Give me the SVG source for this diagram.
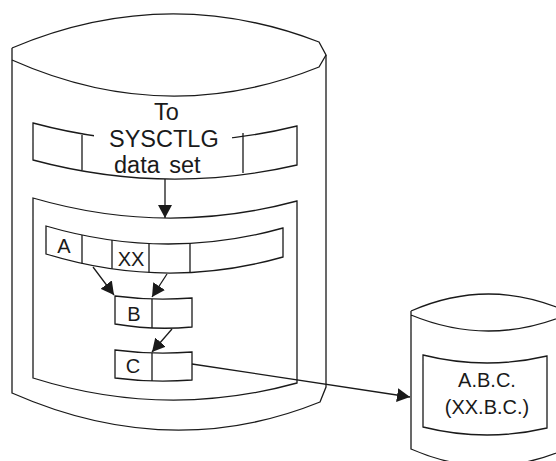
<svg xmlns="http://www.w3.org/2000/svg" width="556" height="461" viewBox="0 0 556 461">
<style>
.s{fill:none;stroke:#1a1a1a;stroke-width:1.3}
.t{font-family:"Liberation Sans",Arial,sans-serif;fill:#1a1a1a}
.big{font-size:23.5px}
.sm{font-size:20px}
</style>
<defs>
<marker id="ah" markerUnits="userSpaceOnUse" markerWidth="14" markerHeight="14" viewBox="0 0 14 14" refX="13" refY="7" orient="auto">
<path d="M0,0 L13,7 L0,14 Z" fill="#1a1a1a"/>
</marker>
</defs>
<g id="catalog-volume">
<path class="s" d="M12,48 Q166,-17 319,42 L326,55 L319,67 Q166,128.5 12,60"/>
<path class="s" d="M12,48 L12,393 Q170,462.5 320,402 L326,387 L326,55"/>
</g>
<g id="sysctlg-record">
<path class="s" d="M33,123 Q165,158.5 297,126 L297,165 Q165,195.5 33,160 Z"/>
<rect x="94" y="129" width="138" height="18" fill="#fff"/>
<line class="s" x1="82" y1="135" x2="82" y2="170"/>
<line class="s" x1="243" y1="133" x2="243" y2="173"/>
<text class="t big"><tspan x="154" y="120">To</tspan><tspan x="109" y="147">SYSCTLG</tspan><tspan x="114" y="173" word-spacing="3">data set</tspan></text>
</g>
<g id="index-panel">
<path class="s" d="M33,198 Q165,236.5 297,201 L297,383 Q165,419.5 33,378 Z"/>
</g>
<g id="record-a">
<path class="s" d="M46,226 Q165,261 283,228 L283,257 Q165,290.5 46,254 Z"/>
<line class="s" x1="82" y1="235" x2="82" y2="263.5"/>
<line class="s" x1="112" y1="240" x2="112" y2="268.7"/>
<line class="s" x1="149" y1="243.6" x2="149" y2="272.5"/>
<line class="s" x1="190" y1="243.7" x2="190" y2="272.8"/>
<text class="t sm" x="64" y="253" text-anchor="middle">A</text>
<text class="t sm" x="131" y="266" text-anchor="middle">XX</text>
</g>
<g id="record-b">
<path class="s" d="M115,296 Q153,301 192,298 L192,327 Q153,330.5 115,324 Z"/>
<line class="s" x1="152" y1="299" x2="152" y2="328"/>
<text class="t sm" x="134" y="321" text-anchor="middle">B</text>
</g>
<g id="record-c">
<path class="s" d="M115,350 Q153,355 192,352 L192,380 Q153,383 115,378 Z"/>
<line class="s" x1="152" y1="353" x2="152" y2="381"/>
<text class="t sm" x="133" y="373" text-anchor="middle">C</text>
</g>
<g id="target-volume">
<path class="s" d="M411,311 Q488.5,277 566,311 M411,315 Q488.5,347 566,315 M411,311 L411,449 Q488.5,483 566,449"/>
<path class="s" d="M423,355 Q485,370.5 547,356 L547,428 Q485,442.5 423,427 Z"/>
<text class="t sm" x="487" y="387" text-anchor="middle">A.B.C.</text>
<text class="t sm" x="487" y="414" text-anchor="middle">(XX.B.C.)</text>
</g>
<g id="connectors">
<line class="s" x1="165" y1="179" x2="165" y2="218" marker-end="url(#ah)"/>
<line class="s" x1="93" y1="267" x2="114" y2="295" marker-end="url(#ah)"/>
<line class="s" x1="167" y1="274" x2="152" y2="297" marker-end="url(#ah)"/>
<line class="s" x1="172" y1="329" x2="152" y2="352" marker-end="url(#ah)"/>
<line class="s" x1="192" y1="364" x2="410" y2="397" marker-end="url(#ah)"/>
</g>
</svg>
